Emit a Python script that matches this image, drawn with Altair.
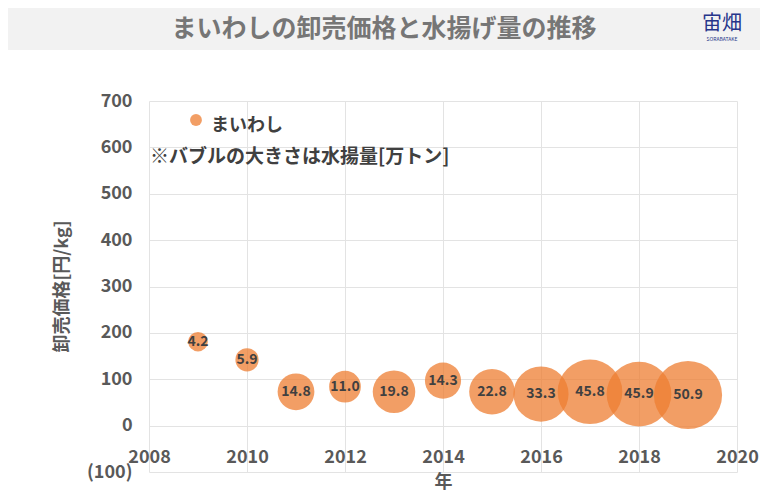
import altair as alt
import pandas as pd

years = [2009, 2010, 2011, 2012, 2013, 2014, 2015, 2016, 2017, 2018, 2019]
prices = [181, 142, 73, 84, 73, 97, 73, 68, 73, 68, 66]
catch = [4.2, 5.9, 14.8, 11.0, 19.8, 14.3, 22.8, 33.3, 45.8, 45.9, 50.9]

df = pd.DataFrame({"year": years, "price": prices, "catch": catch})
one = pd.DataFrame({"a": [0]})

FONT = "Noto Sans CJK JP"
ORANGE = "#ED7D31"

x_enc = alt.X("year:Q", scale=alt.Scale(domain=[2008, 2020], nice=False, zero=False),
              axis=alt.Axis(values=[2008, 2010, 2012, 2014, 2016, 2018, 2020], format="d",
                            title="年", labelPadding=-15, labelBaseline="middle",
                            labelFlush=False,
                            titleY=10, titleBaseline="middle"))
y_enc = alt.Y("price:Q", scale=alt.Scale(domain=[-100, 700], nice=False),
              axis=alt.Axis(values=[-100, 0, 100, 200, 300, 400, 500, 600, 700],
                            title="卸売価格[円/kg]", labelPadding=17, labelFlush=False,
                            labelExpr="datum.value < 0 ? '(' + format(-datum.value, 'd') + ')' : datum.label",
                            titleX=-87, titleY=185, titleAngle=-90, titleBaseline="middle",
                            titleAlign="center"))

bubbles = alt.Chart(df).mark_circle(color=ORANGE, opacity=0.75).encode(
    x=x_enc, y=y_enc,
    size=alt.Size("catch:Q", scale=alt.Scale(domain=[0, 50.9], range=[0, 4650]), legend=None),
    order=alt.Order("year:Q"),
)

labels = alt.Chart(df).mark_text(font=FONT, fontSize=14, fontWeight="bold", color="#404040").encode(
    x="year:Q", y="price:Q", text=alt.Text("catch:Q", format=".1f"))

bar = alt.Chart(one).mark_rect(color="#F2F2F2").encode(
    x=alt.value(-141), x2=alt.value(611), y=alt.value(-93), y2=alt.value(-51))

title = alt.Chart(one).mark_text(text="まいわしの卸売価格と水揚げ量の推移", font=FONT, fontSize=25,
                                 fontWeight="bold", color="#767676", align="center",
                                 baseline="middle").encode(x=alt.value(235), y=alt.value(-72))

logo = alt.Chart(one).mark_text(text="宙畑", font=FONT, fontSize=20, color="#26358A",
                                align="center", baseline="middle").encode(
    x=alt.value(573), y=alt.value(-77))
logo2 = alt.Chart(one).mark_text(text="SORABATAKE", font=FONT, fontSize=5, color="#26358A",
                                 align="center", baseline="middle").encode(
    x=alt.value(573), y=alt.value(-62))

leg_dot = alt.Chart(one).mark_circle(color=ORANGE, opacity=0.75, size=140).encode(
    x=alt.value(47), y=alt.value(19))
leg_txt = alt.Chart(one).mark_text(text="まいわし", font=FONT, fontSize=18, fontWeight="bold",
                                   color="#404040", align="left", baseline="middle").encode(
    x=alt.value(62), y=alt.value(25))
note = alt.Chart(one).mark_text(text="※バブルの大きさは水揚量[万トン]", font=FONT, fontSize=19,
                                fontWeight="bold", color="#404040", align="left",
                                baseline="middle").encode(x=alt.value(1), y=alt.value(56))

chart = alt.layer(bar, title, logo, logo2, bubbles, labels, leg_dot, leg_txt, note).properties(
    width=588, height=371,
    autosize=alt.AutoSizeParams(type="none"),
    padding={"left": 141, "top": 93, "right": 23, "bottom": 21},
).configure_view(stroke=None).configure_axis(
    labelFont=FONT, titleFont=FONT, labelFontSize=18, titleFontSize=18,
    labelFontWeight="bold", titleFontWeight="bold",
    labelColor="#595959", titleColor="#595959",
    domain=False, ticks=False, gridColor="#E3E3E3", gridWidth=1,
)

chart.save("out.html", embed_options={"renderer": "svg", "actions": False})
